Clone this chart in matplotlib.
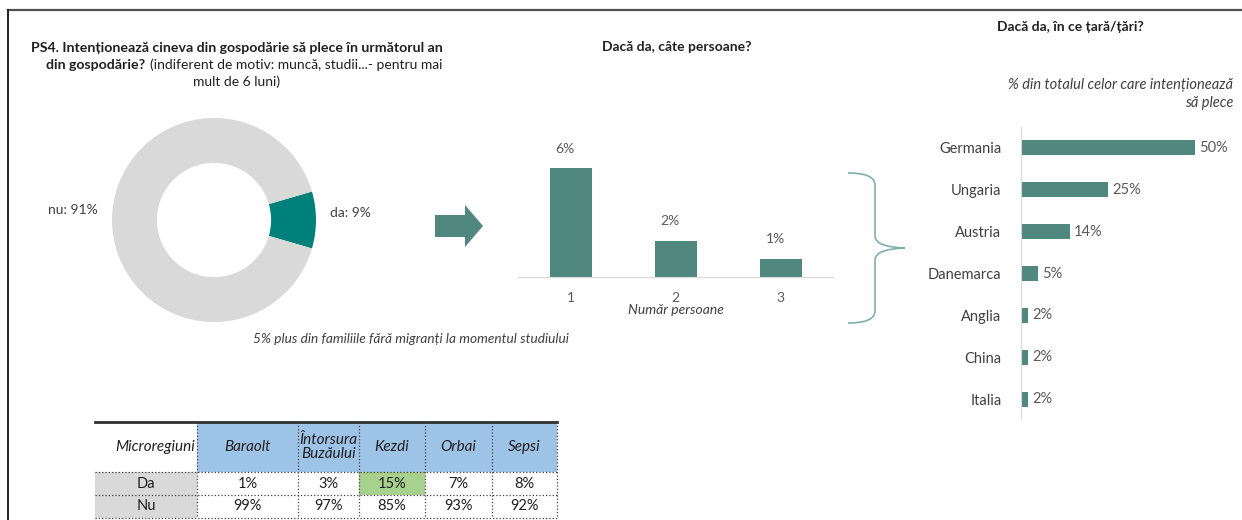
import matplotlib.pyplot as plt
from matplotlib.patches import Rectangle, FancyArrow, PathPatch
from matplotlib.path import Path

# data
pie_labels = ['da', 'nu']
pie_values = [9, 91]

persons = ['1', '2', '3']
persons_pct = [6, 2, 1]

countries = ['Germania', 'Ungaria', 'Austria', 'Danemarca', 'Anglia', 'China', 'Italia']
countries_pct = [50, 25, 14, 5, 2, 2, 2]

regions = ['Baraolt', 'Întorsura\nBuzăului', 'Kezdi', 'Orbai', 'Sepsi']
regions_da = [1, 3, 15, 7, 8]
regions_nu = [99, 97, 85, 93, 92]

W, H = 1242, 520
TEAL = '#50877f'
DARK_TEAL = '#00807a'
GRAY = '#d9d9d9'
TXT = '#404040'

plt.rcParams['font.family'] = ['Lato', 'DejaVu Sans']


def px_rect(x0, y0, x1, y1):
    # pixel box (top-left origin) -> figure fraction rect
    return [x0 / W, 1 - y1 / H, (x1 - x0) / W, (y1 - y0) / H]


fig = plt.figure(figsize=(W / 100, H / 100), dpi=100)

# overlay axes in pixel coordinates
bg = fig.add_axes([0, 0, 1, 1])
bg.set_xlim(0, W)
bg.set_ylim(H, 0)
bg.axis('off')

# frame lines
bg.plot([8, W], [10, 10], color='#505050', lw=1.6)
bg.plot([8, 8], [10, H], color='#202020', lw=1.4)

# left title
bg.text(237, 48, 'PS4. Intenționează cineva din gospodărie să plece în următorul an',
        ha='center', va='center', fontsize=10.2, fontweight='bold', color='#202020')
# second line mixes bold and regular: measure both and center the pair
t_bold = bg.text(0, 65, 'din gospodărie?', ha='left', va='center', fontsize=10.2,
                 fontweight='bold', color='#202020')
t_reg = bg.text(0, 65, '(indiferent de motiv: muncă, studii...- pentru mai',
                ha='left', va='center', fontsize=10, color='#202020')
renderer = fig.canvas.get_renderer()
wb = t_bold.get_window_extent(renderer).width
wr = t_reg.get_window_extent(renderer).width
gap = 5
x_start = 244 - (wb + gap + wr) / 2
t_bold.set_x(x_start)
t_reg.set_x(x_start + wb + gap)
bg.text(237, 82, 'mult de 6 luni)', ha='center', va='center', fontsize=10, color='#202020')

# donut
ax_pie = fig.add_axes(px_rect(112, 118, 316, 322))
ax_pie.pie(pie_values, colors=[DARK_TEAL, GRAY], startangle=-pie_values[0] * 3.6 / 2,
           wedgeprops=dict(width=0.44, edgecolor='none'))
ax_pie.set_xlim(-1, 1)
ax_pie.set_ylim(-1, 1)
ax_pie.set_aspect('equal')
bg.text(330, 213, f'{pie_labels[0]}: {pie_values[0]}%', ha='left', va='center', fontsize=10, color=TXT)
bg.text(48, 210, f'{pie_labels[1]}: {pie_values[1]}%', ha='left', va='center', fontsize=10, color=TXT)

# arrow
bg.add_patch(FancyArrow(435, 226, 30, 0, width=22, head_width=42, head_length=18,
                        length_includes_head=False, color=TEAL, lw=0))

# middle bar chart
bg.text(677, 47, 'Dacă da, câte persoane?', ha='center', va='center', fontsize=10,
        fontweight='bold', color='#202020')
ax_bar = fig.add_axes(px_rect(518, 150, 833, 277))
xs = [1, 2, 3]
ax_bar.bar(xs, persons_pct, width=0.4, color=TEAL)
for x, v in zip(xs, persons_pct):
    ax_bar.text(x - 0.05, v + 0.75, f'{v}%', ha='center', va='bottom', fontsize=10, color='#595959')
ax_bar.set_xlim(0.5, 3.5)
ax_bar.set_ylim(0, 7)
ax_bar.set_xticks(xs, persons)
ax_bar.set_yticks([])
for s in ['top', 'right', 'left']:
    ax_bar.spines[s].set_visible(False)
ax_bar.spines['bottom'].set_color('#d9d9d9')
ax_bar.tick_params(axis='x', length=0, labelsize=10, labelcolor='#595959', pad=11)
ax_bar.set_xlabel('Număr persoane', fontsize=10, style='italic', color=TXT, labelpad=0)

bg.text(411, 339, '5% plus din familiile fără migranți la momentul studiului',
        ha='center', va='center', fontsize=9.8, style='italic', color=TXT)

# brace
verts = [(848, 173), (875, 173), (875, 185), (875, 195),
         (875, 236), (875, 247), (905, 248),
         (875, 249), (875, 260),
         (875, 311), (875, 323), (848, 323)]
codes = [Path.MOVETO, Path.CURVE3, Path.CURVE3, Path.LINETO,
         Path.LINETO, Path.CURVE3, Path.CURVE3,
         Path.CURVE3, Path.CURVE3,
         Path.LINETO, Path.CURVE3, Path.CURVE3]
bg.add_patch(PathPatch(Path(verts, codes), fill=False, edgecolor='#7fb0aa', lw=1.2))

# right bar chart
bg.text(1070, 27, 'Dacă da, în ce țară/țări?', ha='center', va='center', fontsize=10,
        fontweight='bold', color='#202020')
bg.text(1233, 85, '% din totalul celor care intenționează', ha='right', va='center',
        fontsize=10.5, style='italic', color=TXT)
bg.text(1233, 103, 'să plece', ha='right', va='center', fontsize=10.5, style='italic', color=TXT)

ax_h = fig.add_axes(px_rect(1021, 127, 1230, 420))
ys = list(range(len(countries)))
ax_h.barh(ys, countries_pct, height=0.36, color=TEAL)
for y, v in zip(ys, countries_pct):
    ax_h.text(v + 1.2, y, f'{v}%', ha='left', va='center', fontsize=10.5, color='#595959')
ax_h.set_ylim(len(countries) - 0.5, -0.5)
ax_h.set_xlim(0, 60)
ax_h.set_yticks(ys, countries)
ax_h.set_xticks([])
for s in ['top', 'right', 'bottom']:
    ax_h.spines[s].set_visible(False)
ax_h.spines['left'].set_color('#d9d9d9')
ax_h.tick_params(axis='y', length=0, labelsize=10.5, labelcolor=TXT, pad=14)

# table
col_x = [95, 197, 298, 359, 425, 492, 557]
row_y = [422, 472, 495, 518]
bg.add_patch(Rectangle((col_x[1], row_y[0]), col_x[-1] - col_x[1], row_y[1] - row_y[0],
                       facecolor='#9dc3e6', edgecolor='none'))
bg.add_patch(Rectangle((col_x[0], row_y[1]), col_x[1] - col_x[0], row_y[3] - row_y[1],
                       facecolor=GRAY, edgecolor='none'))
kz = regions.index('Kezdi')
bg.add_patch(Rectangle((col_x[kz + 1], row_y[1]), col_x[kz + 2] - col_x[kz + 1], row_y[2] - row_y[1],
                       facecolor='#a9d18e', edgecolor='none'))
bg.plot([col_x[0], col_x[-1]], [row_y[0], row_y[0]], color='#303030', lw=2)
for y in row_y[1:]:
    bg.plot([col_x[0], col_x[-1]], [y, y], color='#404040', lw=0.9, ls=':')
for x in col_x[1:]:
    bg.plot([x, x], [row_y[0], row_y[3]], color='#404040', lw=0.9, ls=':')

bg.text(col_x[1] - 2, (row_y[0] + row_y[1]) / 2, 'Microregiuni', ha='right', va='center',
        fontsize=11, style='italic', color='#202020')
for i, r in enumerate(regions):
    cx = (col_x[i + 1] + col_x[i + 2]) / 2
    bg.text(cx, (row_y[0] + row_y[1]) / 2, r, ha='center', va='center', fontsize=11,
            style='italic', color='#202020', linespacing=1.05)
    bg.text(cx, (row_y[1] + row_y[2]) / 2, f'{regions_da[i]}%', ha='center', va='center',
            fontsize=10.5, color='#202020')
    bg.text(cx, (row_y[2] + row_y[3]) / 2, f'{regions_nu[i]}%', ha='center', va='center',
            fontsize=10.5, color='#202020')
cx0 = (col_x[0] + col_x[1]) / 2
bg.text(cx0, (row_y[1] + row_y[2]) / 2, 'Da', ha='center', va='center', fontsize=10.5, color='#202020')
bg.text(cx0, (row_y[2] + row_y[3]) / 2, 'Nu', ha='center', va='center', fontsize=10.5, color='#202020')

fig.savefig('out.png', dpi=100)
